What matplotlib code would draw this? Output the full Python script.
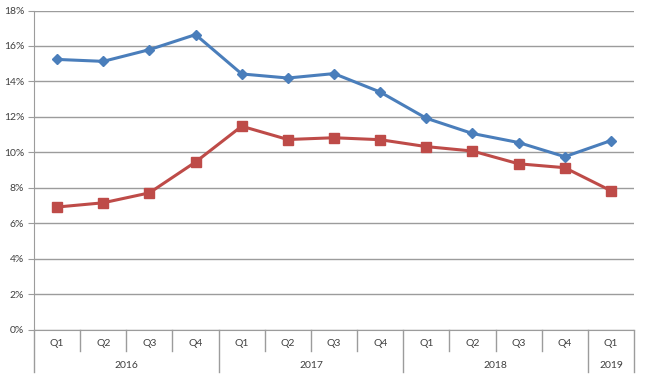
import matplotlib
matplotlib.use("Agg")
import matplotlib.pyplot as plt
from matplotlib.lines import Line2D

plt.rcParams['font.family'] = ['Lato', 'DejaVu Sans']

quarters = ["Q1", "Q2", "Q3", "Q4", "Q1", "Q2", "Q3", "Q4", "Q1", "Q2", "Q3", "Q4", "Q1"]
years = ["2016", "2017", "2018", "2019"]
year_counts = [4, 4, 4, 1]
blue_vals = [15.24, 15.13, 15.79, 16.64, 14.42, 14.19, 14.44, 13.40, 11.92, 11.06, 10.55, 9.75, 10.66]
red_vals = [6.91, 7.15, 7.71, 9.45, 11.47, 10.72, 10.82, 10.71, 10.32, 10.07, 9.35, 9.13, 7.83]
yticks = [0, 2, 4, 6, 8, 10, 12, 14, 16, 18]

fig = plt.figure(figsize=(6.45, 3.77), dpi=100)
ax = fig.add_axes([34/645, (377-329.5)/377, 600/645, 319/377])

x = list(range(len(quarters)))
ax.plot(x, blue_vals, color="#4A7EBB", lw=2.2, marker="D", ms=5.5, zorder=3)
ax.plot(x, red_vals, color="#BE4B48", lw=2.2, marker="s", ms=6.5, zorder=3)

ax.set_xlim(-0.5, len(quarters) - 0.5)
ax.set_ylim(0, 18)
ax.set_yticks(yticks)
ax.set_yticklabels([f"{v}%" for v in yticks])
ax.grid(axis="y", color="#9C9C9C", lw=1)
ax.set_axisbelow(True)
for s in ["top", "right"]:
    ax.spines[s].set_visible(False)
ax.spines["left"].set_color("#9C9C9C")
ax.spines["bottom"].set_color("#9C9C9C")
ax.spines["left"].set_bounds(0, 18)
ax.tick_params(axis="y", length=4, color="#9C9C9C", labelsize=7.5, labelcolor="#404040", pad=3)
ax.set_xticks([])

tr = ax.get_xaxis_transform()
h = 319.0
q_bottom = -21.5 / h
y_bottom = -42.5 / h
# quarter labels and separators
for i, q in enumerate(quarters):
    ax.text(i, -14.5 / h, q, transform=tr, ha="center", va="center", fontsize=7.5, color="#404040")
boundaries = [-0.5]
acc = -0.5
for c in year_counts:
    acc += c
    boundaries.append(acc)
for i in range(len(quarters) + 1):
    xb = i - 0.5
    yb = y_bottom if xb in boundaries else q_bottom
    ax.add_line(Line2D([xb, xb], [0, yb], transform=tr, color="#9C9C9C", lw=1, clip_on=False))
start = -0.5
for yr, c in zip(years, year_counts):
    ax.text(start + c / 2, -36.5 / h, yr, transform=tr, ha="center", va="center", fontsize=7.5, color="#404040")
    start += c

fig.savefig("out.png", dpi=100)
